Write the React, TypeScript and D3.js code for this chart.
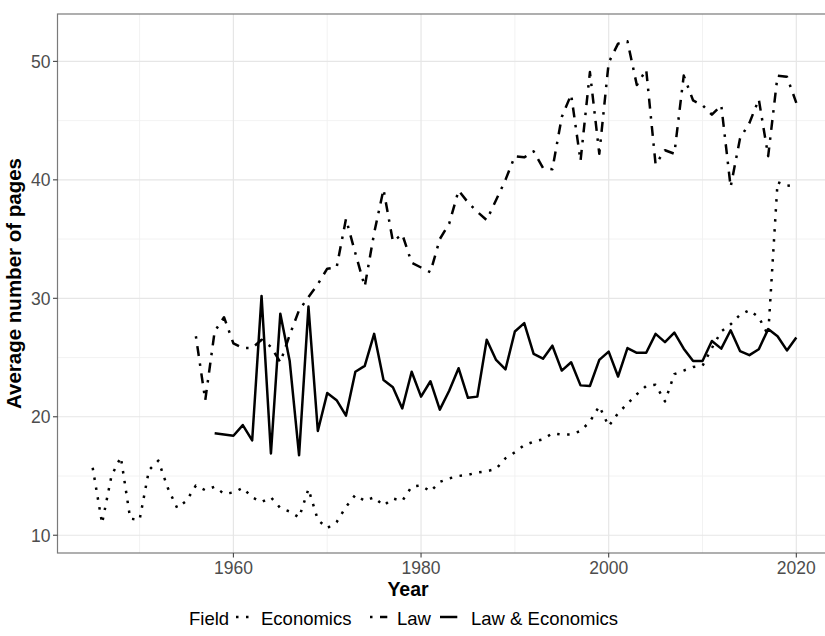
import React from "react";
import * as d3 from "d3";

// Average number of pages per article, by field and publication year
const econStartYear = 1945;
const econPages = [
  15.7, 11.0, 15.0, 16.6, 11.4, 11.3, 15.5, 16.3, 14.0, 12.3,
  12.9, 14.2, 13.8, 14.1, 13.5, 13.6, 14.0, 13.2, 12.8, 13.2,
  12.3, 12.0, 11.5, 13.9, 11.3, 10.6, 11.1, 12.4, 13.4, 12.9,
  13.2, 12.5, 13.1, 12.9, 14.1, 14.2, 13.7, 14.5, 14.8, 15.0,
  15.1, 15.3, 15.4, 15.6, 16.5, 17.0, 17.6, 17.9, 18.1, 18.6,
  18.5, 18.5, 18.8, 19.6, 20.9, 19.2, 20.3, 21.1, 21.9, 22.6,
  22.7, 21.3, 23.6, 23.9, 24.2, 24.3, 25.8, 27.2, 27.8, 28.6,
  29.0, 28.4, 26.9, 39.8, 39.5, 39.6,
];

const lawStartYear = 1956;
const lawPages = [
  26.8, 21.4, 27.2, 28.4, 26.2, 25.8, 25.8, 26.5, 25.9, 24.6,
  26.9, 29.0, 30.1, 31.2, 32.5, 32.6, 36.7, 33.8, 31.0, 35.5,
  39.2, 34.8, 35.4, 33.0, 32.6, 32.2, 35.0, 36.3, 39.1, 38.1,
  37.3, 36.6, 38.3, 40.0, 42.0, 41.9, 42.4, 41.0, 40.9, 45.3,
  47.2, 41.6, 49.1, 42.2, 49.9, 51.5, 51.7, 48.0, 49.3, 41.3,
  42.5, 42.2, 48.8, 46.7, 46.3, 45.5, 46.3, 39.4, 43.5, 44.8,
  46.8, 42.0, 48.8, 48.7, 46.5,
];

const lawEconStartYear = 1958;
const lawEconPages = [
  18.6, 18.5, 18.4, 19.3, 18.0, 30.2, 16.9, 28.7, 24.7, 16.75,
  29.3, 18.8, 22.0, 21.4, 20.1, 23.8, 24.3, 27.0, 23.1, 22.5,
  20.7, 23.8, 21.7, 23.0, 20.6, 22.2, 24.1, 21.6, 21.7, 26.5,
  24.8, 24.0, 27.2, 27.9, 25.3, 24.9, 26.0, 23.9, 24.6, 22.65,
  22.6, 24.8, 25.5, 23.4, 25.8, 25.4, 25.4, 27.0, 26.3, 27.1,
  25.75, 24.7, 24.7, 26.4, 25.75, 27.3, 25.55, 25.2, 25.7, 27.4,
  26.8, 25.6, 26.7,
];

const xMajorTicks = [1960, 1980, 2000, 2020];
const xMinorTicks = [1950, 1970, 1990, 2010];
const yMajorTicks = [10, 20, 30, 40, 50];
const yMinorTicks = [15, 25, 35, 45];

const fieldNames = ["Economics", "Law", "Law & Economics"];

type Pt = { year: number; value: number };
const toSeries = (start: number, vals: number[]): Pt[] =>
  vals.map((v, i) => ({ year: start + i, value: v }));

const WIDTH = 825;
const HEIGHT = 636;
const panel = { left: 57.5, right: 831.5, top: 14, bottom: 553 };
const LW = 2.5;

const dashFor: Record<string, string | undefined> = {
  Economics: `${LW} ${LW * 3}`,
  Law: `${LW} ${LW * 3} ${LW * 4} ${LW * 3}`,
  "Law & Economics": undefined,
};

export default function App() {
  const x = d3.scaleLinear().domain([1941.25, 2023.75]).range([panel.left, panel.right]);
  const y = d3.scaleLinear().domain([8.5, 54]).range([panel.bottom, panel.top]);

  const line = d3
    .line<Pt>()
    .x((d) => x(d.year))
    .y((d) => y(d.value));

  const series = [
    { name: "Economics", data: toSeries(econStartYear, econPages) },
    { name: "Law", data: toSeries(lawStartYear, lawPages) },
    { name: "Law & Economics", data: toSeries(lawEconStartYear, lawEconPages) },
  ];

  const font = "'Liberation Sans', Arial, Helvetica, sans-serif";

  // legend layout
  const legendY = 624.5;
  const keyY = 617;
  const legendFont = 18.5;
  const legendItems = [
    { name: fieldNames[0], keyX: 236, textX: 261 },
    { name: fieldNames[1], keyX: 370, textX: 397 },
    { name: fieldNames[2], keyX: 440, textX: 471 },
  ];

  return (
    <svg
      width={WIDTH}
      height={HEIGHT}
      style={{ position: "absolute", left: 0, top: 0, background: "#fff" }}
      fontFamily={font}
    >
      <defs>
        <clipPath id="panel-clip">
          <rect
            x={panel.left}
            y={panel.top}
            width={panel.right - panel.left}
            height={panel.bottom - panel.top}
          />
        </clipPath>
      </defs>
      <rect x={0} y={0} width={WIDTH} height={HEIGHT} fill="#fff" />

      {/* grid */}
      <g>
        {yMinorTicks.map((t) => (
          <line key={`ym${t}`} x1={panel.left} x2={panel.right} y1={y(t)} y2={y(t)} stroke="#f0f0f0" strokeWidth={0.9} />
        ))}
        {xMinorTicks.map((t) => (
          <line key={`xm${t}`} x1={x(t)} x2={x(t)} y1={panel.top} y2={panel.bottom} stroke="#f0f0f0" strokeWidth={0.9} />
        ))}
        {yMajorTicks.map((t) => (
          <line key={`yM${t}`} x1={panel.left} x2={panel.right} y1={y(t)} y2={y(t)} stroke="#e6e6e6" strokeWidth={1.2} />
        ))}
        {xMajorTicks.map((t) => (
          <line key={`xM${t}`} x1={x(t)} x2={x(t)} y1={panel.top} y2={panel.bottom} stroke="#e6e6e6" strokeWidth={1.2} />
        ))}
      </g>

      {/* series */}
      <g clipPath="url(#panel-clip)">
        {series.map((s) => (
          <path
            key={s.name}
            d={line(s.data) ?? ""}
            fill="none"
            stroke="#000"
            strokeWidth={LW}
            strokeLinejoin="round"
            strokeLinecap="butt"
            strokeDasharray={dashFor[s.name]}
          />
        ))}
      </g>

      {/* panel border */}
      <rect
        x={panel.left}
        y={panel.top}
        width={panel.right - panel.left}
        height={panel.bottom - panel.top}
        fill="none"
        stroke="#7a7a7a"
        strokeWidth={1.2}
      />

      {/* y axis */}
      <g>
        {yMajorTicks.map((t) => (
          <g key={`yt${t}`}>
            <line x1={panel.left - 4.5} x2={panel.left} y1={y(t)} y2={y(t)} stroke="#444" strokeWidth={1.1} />
            <text x={panel.left - 7} y={y(t) + 6.3} textAnchor="end" fontSize={17.5} fill="#4d4d4d">
              {t}
            </text>
          </g>
        ))}
        <text
          transform={`translate(21, ${(panel.top + panel.bottom) / 2}) rotate(-90)`}
          textAnchor="middle"
          fontSize={20.5}
          fontWeight="bold"
          fill="#000"
        >
          Average number of pages
        </text>
      </g>

      {/* x axis */}
      <g>
        {xMajorTicks.map((t) => (
          <g key={`xt${t}`}>
            <line x1={x(t)} x2={x(t)} y1={panel.bottom} y2={panel.bottom + 4.5} stroke="#444" strokeWidth={1.1} />
            <text x={x(t)} y={panel.bottom + 20.5} textAnchor="middle" fontSize={17.5} fill="#4d4d4d">
              {t}
            </text>
          </g>
        ))}
        <text x={408} y={595.5} textAnchor="middle" fontSize={19.5} fontWeight="bold" fill="#000">
          Year
        </text>
      </g>

      {/* legend */}
      <g>
        <text x={189} y={legendY} fontSize={legendFont} fill="#000">
          Field
        </text>
        {legendItems.map((it) => (
          <g key={it.name}>
            <line
              x1={it.keyX}
              x2={it.keyX + 17.3}
              y1={keyY}
              y2={keyY}
              stroke="#000"
              strokeWidth={LW}
              strokeLinecap="butt"
              strokeDasharray={dashFor[it.name]}
            />
            <text x={it.textX} y={legendY} fontSize={legendFont} fill="#000">
              {it.name}
            </text>
          </g>
        ))}
      </g>
    </svg>
  );
}
